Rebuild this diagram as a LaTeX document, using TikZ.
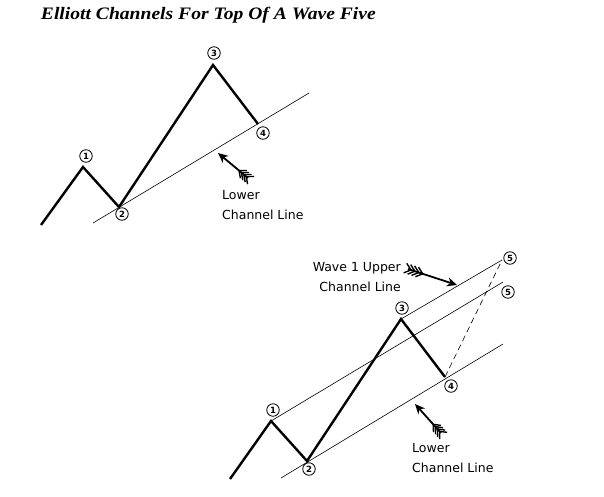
\documentclass[tikz,border=0pt]{standalone}
\usepackage{fontspec}
\setmainfont{Liberation Serif}
\newfontfamily\notefont{DejaVu Sans}
\usetikzlibrary{arrows.meta,decorations.markings}
\tikzset{
  wave/.style={line width=2.4pt, line join=miter},
  channel/.style={line width=0.6pt},
  wavenum/.style={circle, draw, line width=0.8pt, inner sep=0pt, minimum size=12.5pt, font=\notefont\fontsize{8.5}{8.5}\selectfont\bfseries},
  note/.style={font=\notefont\fontsize{12.5}{20}\selectfont, inner sep=0pt},
  feathered/.style={line width=1.8pt, -{Stealth[length=10pt,width=9pt]},
    postaction={decorate, decoration={markings,
      mark=between positions 0.06 and 0.36 step 0.08 with {\draw[line width=1.4pt,-] (0,0) -- (-6pt,5pt) (0,0) -- (-6pt,-5pt);}}}}
}
\begin{document}
\begin{tikzpicture}[x=1pt,y=-1pt]
\useasboundingbox (0,0) rectangle (604,496);
\node[anchor=west, xscale=1.12, font=\fontsize{17.5}{18}\selectfont\bfseries\itshape] (title) at (37,15) {Elliott Channels For Top Of A Wave Five};

\coordinate (a0) at (41,225);
\coordinate (a1) at (83,167);
\coordinate (a2) at (119,207);
\coordinate (a3) at (213,65);
\coordinate (a4) at (258,124);
\coordinate (alow0) at (93,223);
\coordinate (alow1) at (309,93);
\draw[channel] (alow0) -- (alow1);
\draw[wave] (a0) -- (a1) -- (a2) -- (a3) -- (a4);
\node[wavenum] (n1) at (86,156) {1};
\node[wavenum] (n2) at (122,214) {2};
\node[wavenum] (n3) at (214,53) {3};
\node[wavenum] (n4) at (263,133) {4};
\coordinate (atail) at (248,178);
\coordinate (atip) at (218,153);
\draw[feathered] (atail) -- (atip);
\node[note, anchor=north west, align=left] (alabel) at (222,190) {Lower\\Channel Line};

\coordinate (b0) at (230,479);
\coordinate (b1) at (271,421);
\coordinate (b2) at (307,461);
\coordinate (b3) at (401,319);
\coordinate (b4) at (445,377);
\coordinate (blow0) at (281,478);
\coordinate (blow1) at (503,344);
\coordinate (bmid) at (503,282);
\coordinate (btop) at (502,260);
\draw[channel] (blow0) -- (blow1);
\draw[channel] (b1) -- (bmid);
\draw[channel] (b3) -- (btop);
\draw[channel, dash pattern=on 6pt off 4pt] (b4) -- (btop);
\draw[wave] (b0) -- (b1) -- (b2) -- (b3) -- (b4);
\node[wavenum] (m1) at (273,410) {1};
\node[wavenum] (m2) at (309,469) {2};
\node[wavenum] (m3) at (402,308) {3};
\node[wavenum] (m4) at (451,386) {4};
\node[wavenum] (m5) at (510,258) {5};
\node[wavenum] (m5b) at (508,292) {5};
\coordinate (btail) at (441,433);
\coordinate (btip) at (415,404);
\draw[feathered] (btail) -- (btip);
\node[note, anchor=north west, align=left] (blabel) at (412,443) {Lower\\Channel Line};
\coordinate (utail) at (408,269);
\coordinate (utip) at (457,285);
\draw[feathered] (utail) -- (utip);
\node[note, anchor=north east, align=right] (ulabel) at (401,262) {Wave 1 Upper\\Channel Line};
\end{tikzpicture}
\end{document}
